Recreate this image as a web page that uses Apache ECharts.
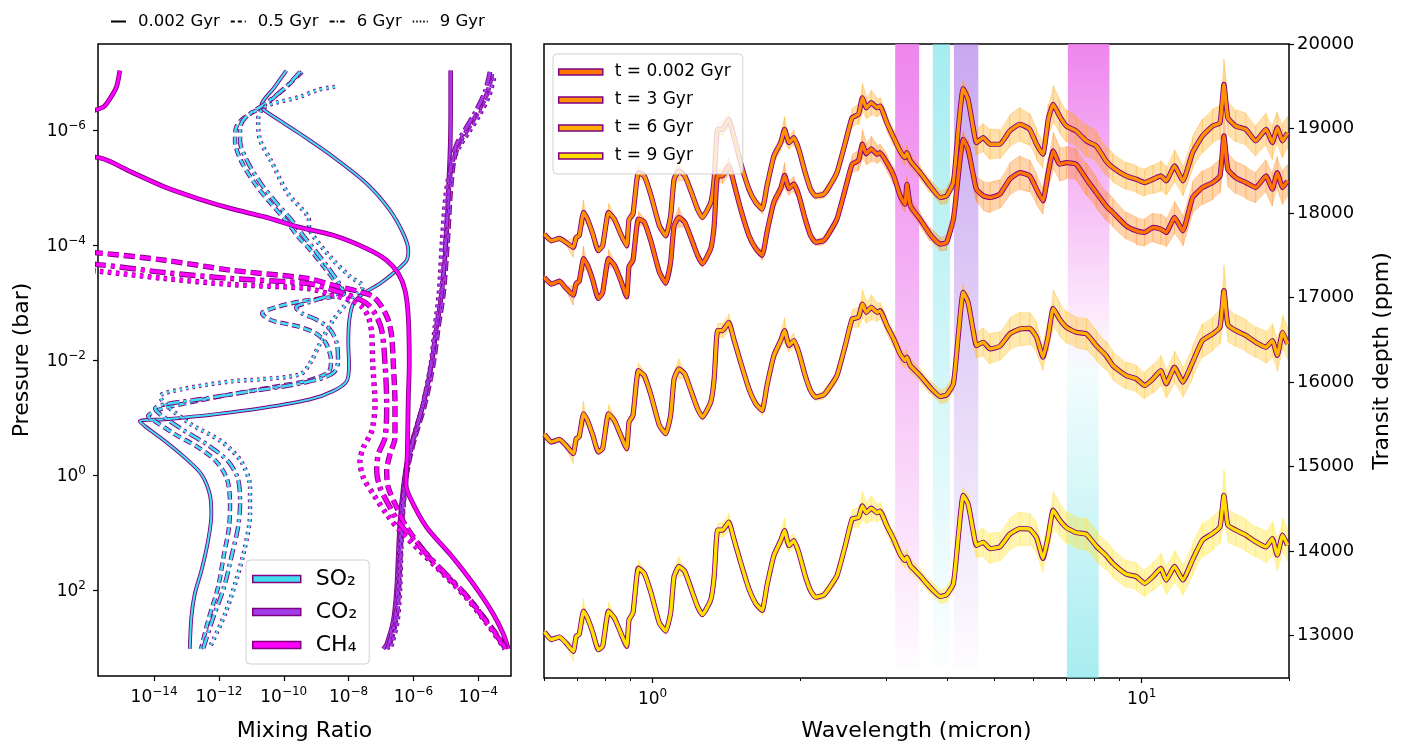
<!DOCTYPE html>
<html>
<head>
<meta charset="utf-8">
<script src="https://cdn.jsdelivr.net/npm/echarts@6.0.0/dist/echarts.min.js"></script>
<style>
  html, body { margin: 0; padding: 0; background: #fff; }
  #chart { width: 1410px; height: 747px; }
</style>
</head>
<body>
<div id="chart"></div>
<script>
// ---------- left panel: mixing ratio profiles, points are [log10 mixing ratio, log10 pressure (bar)]
const ch4Solid = [[-15.058,-7.037],[-15.163,-6.749],[-15.366,-6.546],[-15.573,-6.401],[-16.9,-6.094],[-16.9,-5.659],[-15.573,-5.503],[-14.70,-5.272],[-13.67,-5.011],[-12.643,-4.808],[-11.616,-4.634],[-10.587,-4.490],[-9.560,-4.316],[-8.471,-4.170],[-7.441,-3.939],[-6.825,-3.736],[-6.467,-3.505],[-6.260,-3.215],[-6.159,-2.752],[-6.128,-1.941],[-6.159,-1.315],[-6.189,-0.359],[-6.229,0.162],[-6.106,0.393],[-5.591,0.914],[-4.873,1.377],[-4.154,1.898],[-3.538,2.420],[-3.229,2.767],[-3.075,3.028]];
const ch4Dashed = [[-16.9,-3.904],[-15.727,-3.864],[-13.67,-3.736],[-11.616,-3.562],[-9.251,-3.418],[-8.471,-3.301],[-7.648,-3.187],[-7.238,-3.100],[-6.979,-2.926],[-6.775,-2.693],[-6.670,-2.405],[-6.621,-1.941],[-6.569,-1.229],[-6.569,-0.650],[-6.723,-0.360],[-6.825,-0.070],[-6.775,0.219],[-6.516,0.566],[-6.208,0.914],[-5.388,1.517],[-4.358,2.108],[-3.538,2.699],[-3.124,3.028]];
const ch4DashDot = [[-16.9,-3.696],[-15.727,-3.661],[-13.67,-3.522],[-11.616,-3.418],[-9.251,-3.331],[-8.471,-3.215],[-7.854,-3.100],[-7.441,-2.983],[-7.185,-2.810],[-6.979,-2.520],[-6.877,-1.941],[-6.825,-1.229],[-6.877,-0.650],[-7.083,-0.360],[-7.133,-0.070],[-7.031,0.219],[-6.775,0.509],[-6.414,0.857],[-5.388,1.500],[-4.358,2.108],[-3.538,2.717],[-3.146,3.028]];
const ch4Dotted = [[-16.9,-3.574],[-15.727,-3.545],[-13.67,-3.418],[-11.616,-3.314],[-9.251,-3.244],[-8.471,-3.128],[-7.956,-3.041],[-7.595,-2.926],[-7.392,-2.752],[-7.287,-2.462],[-7.256,-1.941],[-7.185,-1.229],[-7.287,-0.765],[-7.546,-0.476],[-7.648,-0.243],[-7.546,0.045],[-7.238,0.335],[-6.825,0.683],[-6.414,0.973],[-5.388,1.552],[-4.358,2.143],[-3.538,2.734],[-3.177,3.028]];

const co2Solid = [[-4.851,-7.037],[-4.851,-6.528],[-4.864,-5.764],[-4.925,-4.895],[-4.996,-4.026],[-5.129,-3.157],[-5.283,-2.579],[-5.437,-1.941],[-5.696,-1.229],[-6.004,-0.650],[-6.208,-0.186],[-6.313,0.219],[-6.414,0.799],[-6.467,1.378],[-6.516,1.957],[-6.621,2.537],[-6.825,2.942],[-6.929,3.028]];
const co2Dashed = [[-3.578,-6.980],[-3.732,-6.632],[-4.040,-6.285],[-4.348,-5.995],[-4.595,-5.764],[-4.749,-5.473],[-4.857,-4.895],[-4.950,-4.026],[-5.073,-3.157],[-5.227,-2.579],[-5.381,-1.941],[-5.644,-1.229],[-5.952,-0.650],[-6.152,-0.186],[-6.260,0.219],[-6.353,0.799],[-6.399,1.378],[-6.445,1.957],[-6.538,2.537],[-6.723,2.942],[-6.815,3.028]];
const co2DashDot = [[-3.639,-7.015],[-3.794,-6.667],[-4.102,-6.302],[-4.410,-6.007],[-4.657,-5.764],[-4.811,-5.468],[-4.919,-4.895],[-5.011,-4.026],[-5.135,-3.157],[-5.289,-2.579],[-5.443,-1.941],[-5.705,-1.229],[-5.998,-0.650],[-6.199,-0.186],[-6.291,0.219],[-6.384,0.799],[-6.430,1.378],[-6.476,1.957],[-6.569,2.537],[-6.754,2.942],[-6.846,3.028]];
const co2Dotted = [[-3.516,-6.911],[-3.670,-6.598],[-3.979,-6.250],[-4.287,-5.972],[-4.564,-5.729],[-4.811,-5.434],[-4.996,-4.895],[-5.119,-4.026],[-5.212,-3.157],[-5.335,-2.579],[-5.458,-1.941],[-5.705,-1.229],[-5.983,-0.650],[-6.168,-0.186],[-6.260,0.219],[-6.338,0.799],[-6.384,1.378],[-6.414,1.957],[-6.491,2.537],[-6.661,2.942],[-6.723,3.028]];

const so2Solid = [[-9.920,-7.037],[-10.300,-6.737],[-10.691,-6.429],[-10.586,-6.342],[-9.970,-6.111],[-9.498,-5.937],[-8.471,-5.533],[-7.441,-5.069],[-6.723,-4.605],[-6.313,-4.200],[-6.158,-3.910],[-6.208,-3.736],[-6.516,-3.562],[-7.031,-3.331],[-7.546,-3.157],[-7.854,-2.983],[-7.978,-2.693],[-8.009,-2.288],[-7.987,-1.923],[-8.058,-1.633],[-8.471,-1.460],[-9.190,-1.315],[-10.586,-1.171],[-12.128,-1.055],[-13.670,-0.968],[-14.441,-0.938],[-14.287,-0.851],[-13.670,-0.591],[-13.053,-0.302],[-12.541,-0.012],[-12.282,0.336],[-12.233,0.683],[-12.335,1.147],[-12.541,1.668],[-12.745,2.073],[-12.850,2.478],[-12.899,3.028]];
const so2Dashed = [[-9.437,-7.015],[-10.022,-6.702],[-10.670,-6.407],[-11.225,-6.216],[-11.472,-6.042],[-11.503,-5.816],[-11.318,-5.468],[-10.886,-5.069],[-10.393,-4.721],[-9.930,-4.426],[-9.560,-4.148],[-9.190,-3.922],[-8.789,-3.644],[-8.388,-3.349],[-8.142,-3.157],[-8.419,-3.105],[-9.498,-3.018],[-10.269,-2.914],[-10.670,-2.810],[-10.362,-2.688],[-9.560,-2.584],[-9.005,-2.462],[-8.697,-2.289],[-8.542,-1.976],[-8.604,-1.802],[-8.943,-1.698],[-9.498,-1.611],[-10.732,-1.489],[-11.626,-1.402],[-12.890,-1.263],[-13.815,-1.142],[-14.185,-1.020],[-13.969,-0.933],[-13.353,-0.707],[-12.644,-0.481],[-12.088,-0.238],[-11.749,0.075],[-11.657,0.509],[-11.688,0.909],[-11.842,1.378],[-12.027,1.951],[-12.335,2.542],[-12.551,3.029]];
const so2DashDot = [[-9.498,-7.015],[-9.961,-6.737],[-10.578,-6.459],[-11.163,-6.233],[-11.348,-6.042],[-11.348,-5.816],[-11.133,-5.468],[-10.701,-5.069],[-10.207,-4.721],[-9.745,-4.426],[-9.375,-4.148],[-9.005,-3.887],[-8.635,-3.609],[-8.327,-3.366],[-8.172,-3.192],[-8.573,-3.123],[-9.252,-3.001],[-9.622,-2.914],[-9.437,-2.810],[-9.005,-2.706],[-8.573,-2.532],[-8.357,-2.271],[-8.327,-1.976],[-8.450,-1.785],[-8.943,-1.663],[-9.807,-1.559],[-11.040,-1.455],[-12.582,-1.316],[-13.661,-1.229],[-13.969,-1.159],[-13.815,-1.055],[-13.137,-0.794],[-12.335,-0.516],[-11.718,-0.238],[-11.410,0.075],[-11.348,0.509],[-11.410,0.909],[-11.595,1.378],[-11.842,1.951],[-12.212,2.542],[-12.489,3.029]];
const so2Dotted = [[-8.419,-6.754],[-8.943,-6.702],[-9.498,-6.581],[-10.578,-6.407],[-10.793,-6.181],[-10.732,-5.833],[-10.393,-5.468],[-9.868,-4.895],[-9.252,-4.495],[-9.190,-4.252],[-8.573,-3.800],[-7.957,-3.453],[-7.556,-3.279],[-7.957,-3.053],[-8.481,-2.688],[-8.882,-2.289],[-9.190,-1.941],[-9.498,-1.750],[-10.732,-1.663],[-11.626,-1.628],[-13.168,-1.489],[-13.815,-1.368],[-13.661,-1.229],[-12.859,-0.881],[-11.934,-0.586],[-11.318,-0.238],[-11.040,0.214],[-11.040,0.683],[-11.194,1.256],[-11.472,1.847],[-11.811,2.420],[-12.274,2.994]];

const mixTicks = [-14, -12, -10, -8, -6, -4];
const pressureTicks = [-6, -4, -2, 0, 2];
const ageNames = ['0.002 Gyr', '0.5 Gyr', '6 Gyr', '9 Gyr'];

// ---------- right panel: transit spectra, x is log10 wavelength (micron)
const logWavelength = [-0.221,-0.207,-0.190,-0.177,-0.162,-0.156,-0.150,-0.141,-0.133,-0.122,-0.111,-0.102,-0.090,-0.078,-0.065,-0.053,-0.048,-0.040,-0.029,-0.017,-0.003,0.014,0.027,0.037,0.044,0.054,0.066,0.082,0.092,0.102,0.119,0.126,0.133,0.143,0.156,0.166,0.180,0.197,0.211,0.224,0.234,0.248,0.262,0.270,0.279,0.289,0.299,0.312,0.323,0.333,0.350,0.360,0.377,0.394,0.408,0.421,0.429,0.437,0.447,0.459,0.465,0.479,0.493,0.506,0.516,0.520,0.527,0.547,0.567,0.588,0.601,0.615,0.625,0.635,0.645,0.656,0.662,0.676,0.690,0.710,0.730,0.751,0.771,0.785,0.798,0.809,0.819,0.832,0.846,0.866,0.887,0.907,0.927,0.941,0.968,0.989,1.006,1.023,1.039,1.050,1.067,1.084,1.104,1.124,1.145,1.160,1.168,1.176,1.192,1.213,1.233,1.254,1.267,1.277,1.288,1.298];
const depth3Gyr = [17751,17672,17700,17653,17594,17712,17731,18007,17928,17751,17554,17613,18007,17928,17751,17613,17928,17987,18479,18440,18204,17850,17731,17968,18400,18499,18440,18204,18046,17948,18125,18400,18991,18991,19109,18912,18597,18282,18125,18046,18322,18676,18833,18991,18833,18892,18755,18479,18282,18204,18223,18302,18479,18833,19128,19168,19364,19246,19306,19246,19266,19069,18892,18735,18656,18715,18617,18479,18322,18184,18204,18361,18991,19471,19345,18991,18833,18892,18814,18814,18971,19050,18991,18814,18696,19109,19286,19148,19030,18971,18853,18794,18617,18538,18440,18400,18361,18400,18440,18381,18558,18381,18715,18912,19030,19069,19522,19128,19030,18991,18853,18991,18833,19010,18853,18951];
const depth0002Gyr = [17240,17160,17195,17110,17030,17170,17190,17460,17385,17205,16990,17060,17460,17385,17205,17010,17370,17440,17930,17895,17660,17300,17170,17420,17850,17950,17890,17655,17500,17400,17580,17850,18440,18440,18560,18360,18050,17735,17580,17500,17775,18130,18290,18445,18290,18345,18210,17930,17735,17655,17675,17755,17930,18285,18580,18620,18815,18700,18760,18696,18715,18597,18440,18204,18105,18341,18086,17928,17751,17633,17653,17928,18440,18873,18755,18440,18282,18204,18184,18223,18400,18479,18440,18282,18145,18479,18735,18578,18597,18578,18400,18243,18086,18007,17850,17790,17771,17830,17810,17771,17948,17790,18184,18302,18361,18440,18912,18518,18420,18361,18302,18440,18282,18479,18302,18381];
const depth6Gyr = [15382,15291,15323,15252,15154,15331,15351,15626,15547,15370,15173,15213,15626,15547,15370,15213,15528,15606,16137,16078,15842,15488,15390,15606,16039,16157,16098,15842,15685,15587,15764,16039,16610,16610,16708,16511,16236,15921,15744,15665,15960,16315,16492,16610,16433,16492,16354,16078,15901,15823,15850,15921,16078,16433,16747,16767,16924,16826,16885,16826,16846,16669,16511,16334,16256,16295,16196,16078,15941,15830,15850,15980,16551,17062,16944,16590,16433,16472,16393,16425,16570,16629,16637,16531,16295,16551,16873,16747,16649,16590,16570,16433,16315,16196,16078,16039,15960,16039,16137,15980,16177,16000,16236,16492,16570,16650,17082,16680,16610,16551,16472,16413,16492,16315,16590,16452];
const depth9Gyr = [13045,12955,12985,12915,12815,12995,13015,13290,13210,13035,12835,12875,13290,13210,13035,12875,13190,13270,13800,13740,13505,13150,13055,13270,13700,13820,13760,13505,13345,13250,13425,13700,14250,14250,14345,14150,13870,13555,13380,13300,13595,13950,14125,14245,14065,14125,13985,13710,13535,13455,13480,13555,13710,14065,14380,14400,14535,14455,14510,14455,14475,14300,14140,13965,13890,13930,13830,13710,13575,13465,13485,13615,14170,14660,14560,14220,14070,14105,14030,14052,14200,14268,14260,14160,13914,14180,14485,14370,14280,14220,14200,14060,13950,13855,13730,13700,13619,13700,13796,13658,13820,13660,13900,14130,14210,14290,14662,14310,14250,14190,14111,14050,14150,13954,14190,14072];
// half spread of the unbinned spectrum around the binned line (ppm)
const noiseHalf = [20,20,30,25,120,40,50,150,40,30,30,40,110,40,30,40,60,60,90,50,40,40,40,60,80,120,50,40,40,40,50,80,80,90,100,60,50,50,50,60,70,80,90,150,80,90,60,50,40,40,50,60,70,90,110,120,170,130,150,110,100,100,100,90,90,90,90,80,80,80,90,100,110,100,110,130,150,170,180,170,190,200,190,180,160,180,220,200,190,180,190,180,170,170,160,160,160,170,180,170,190,180,190,200,200,200,300,200,190,190,180,190,200,190,200,190];

// highlighted molecular bands: [log10 lo, log10 hi, top ppm, bottom ppm]
const bandCH4a = [0.496, 0.545, 20000, 12600];
const bandSO2a = [0.573, 0.608, 20000, 12600];
const bandCO2  = [0.616, 0.666, 20000, 12600];
const bandCH4b = [0.849, 0.934, 20000, 16100];
const bandSO2b = [0.847, 0.912, 16700, 12500];

const waveMajor = [0, 1];
const waveMinor = [0.6,0.7,0.8,0.9,2,3,4,5,6,7,8,9,20].map(Math.log10);
const depthTicks = [13000,14000,15000,16000,17000,18000,19000,20000];

const EDGE = '#800080';
const FONT = 'DejaVu Sans';

// 10^n tick labels as rich text with a raised exponent
function pow10(v) {
  return '{b|10}{s|' + String(Math.round(v)).replace('-', '\u2212') + '}';
}
const powRich = {
  b: { fontSize: 17, lineHeight: 20, verticalAlign: 'bottom', fontFamily: FONT, color: '#000' },
  s: { fontSize: 12, lineHeight: 7, verticalAlign: 'top', fontFamily: FONT, color: '#000' }
};

const chart = echarts.init(document.getElementById('chart'));

// line styles for the four ages
const dashes = {
  so2: ['solid', [8, 4], [12, 4, 3, 4], [2.5, 4]],
  co2: ['solid', [10, 4], [14, 4, 3, 4], [3, 4]],
  ch4: ['solid', [11, 5], [16, 5, 4, 5], [3.5, 4.5]]
};

function outlined(name, data, color, width, dash, grid, smooth) {
  const base = {
    type: 'line', xAxisIndex: grid ? 1 : 0, yAxisIndex: grid, data: data,
    symbol: 'none', smooth: smooth, animation: false, silent: true
  };
  return [
    Object.assign({}, base, { name: name + ' edge', lineStyle: { color: EDGE, width: width + 1.8, type: dash } }),
    Object.assign({}, base, { name: name, color: color, lineStyle: { color: color, width: width, type: dash } })
  ];
}

const series = [];
[[so2Solid, so2Dashed, so2DashDot, so2Dotted], [co2Solid, co2Dashed, co2DashDot, co2Dotted], [ch4Solid, ch4Dashed, ch4DashDot, ch4Dotted]]
  .forEach((group, g) => {
    const key = ['so2', 'co2', 'ch4'][g];
    const name = ['SO\u2082', 'CO\u2082', 'CH\u2084'][g];
    const color = ['#40E0F0', '#A23BEA', '#FF00FF'][g];
    group.forEach((d, k) => {
      const w = (k === 0 ? [2, 2.8, 3][g] : [2.6, 3, 3.6][g]);
      series.push(...outlined(name, d, color, w, dashes[key][k], 0, 0.3));
    });
  });

// dummy series for the line style key
ageNames.forEach((n, k) => {
  series.push({
    type: 'line', name: n, xAxisIndex: 0, yAxisIndex: 0, data: [], symbol: 'none',
    color: '#000', lineStyle: { color: '#000', width: 1.8, type: ['solid', [4, 3], [5, 2, 1.5, 2], [1.5, 2]][k] }
  });
});

// band shading on the spectrum panel
function band(b, color, top, bottom) {
  const stops = [{ offset: 0, color: color.replace('A', top) }, { offset: 1, color: color.replace('A', bottom) }];
  return [
    { xAxis: b[0], yAxis: b[2], itemStyle: { color: { type: 'linear', x: 0, y: 0, x2: 0, y2: 1, colorStops: stops } } },
    { xAxis: b[1], yAxis: b[3] }
  ];
}
series.push({
  type: 'line', name: 'bands', xAxisIndex: 1, yAxisIndex: 1, data: [], symbol: 'none', silent: true, z: 1,
  markArea: {
    silent: true,
    data: [
      band(bandCH4a, 'rgba(236,120,236,A)', 0.9, 0.02),
      band(bandSO2a, 'rgba(110,225,232,A)', 0.62, 0.02),
      band(bandCO2, 'rgba(165,110,230,A)', 0.6, 0.02),
      band(bandCH4b, 'rgba(236,120,236,A)', 0.9, 0.0),
      band(bandSO2b, 'rgba(110,225,232,A)', 0.0, 0.6)
    ]
  }
});

const spectra = [
  { name: 't = 3 Gyr', depth: depth3Gyr, color: '#FF9200', noise: [255, 165, 20] },
  { name: 't = 0.002 Gyr', depth: depth0002Gyr, color: '#FF7400', noise: [255, 135, 20] },
  { name: 't = 6 Gyr', depth: depth6Gyr, color: '#FFB000', noise: [255, 190, 30] },
  { name: 't = 9 Gyr', depth: depth9Gyr, color: '#FFE100', noise: [255, 228, 40] }
];
spectra.forEach(s => {
  const rgba = a => 'rgba(' + s.noise.join(',') + ',' + a + ')';
  const spread = logWavelength.map((x, i) => [x, s.depth[i] - noiseHalf[i], s.depth[i] + noiseHalf[i]]);
  // filled envelope of the unbinned spectrum
  series.push({
    type: 'custom', name: s.name + ' spread', xAxisIndex: 1, yAxisIndex: 1, silent: true, clip: true,
    data: spread, encode: { x: 0, y: [1, 2] },
    renderItem: (params, api) => {
      if (params.dataIndex !== 0) return null;
      const lo = spread.map(p => api.coord([p[0], p[1]]));
      const hi = spread.map(p => api.coord([p[0], p[2]])).reverse();
      return { type: 'polygon', shape: { points: lo.concat(hi) }, style: { fill: rgba(0.36) } };
    }
  });
  // jagged strokes of the unbinned spectrum
  const comb = [];
  spread.forEach((p, i) => {
    if (i % 2) comb.push([p[0], p[2]], [p[0], p[1]]); else comb.push([p[0], p[1]], [p[0], p[2]]);
  });
  series.push({
    type: 'line', name: s.name + ' raw', xAxisIndex: 1, yAxisIndex: 1, data: comb, symbol: 'none',
    silent: true, lineStyle: { color: rgba(0.4), width: 1 }
  });
  const line = logWavelength.map((x, i) => [x, s.depth[i]]);
  series.push(...outlined(s.name, line, s.color, 3.4, 'solid', 1, 0.15));
});

const tickFont = { fontFamily: FONT, color: '#000' };
const nameFont = { fontSize: 22, fontFamily: FONT, color: '#000' };

chart.setOption({
  animation: false,
  backgroundColor: '#fff',
  textStyle: { fontFamily: FONT },
  grid: [
    { left: 98, top: 44, width: 413, height: 633, show: true, borderColor: '#000', borderWidth: 1.5, backgroundColor: 'transparent' },
    { left: 544, top: 44, width: 745, height: 634, show: true, borderColor: '#000', borderWidth: 1.5, backgroundColor: 'transparent' }
  ],
  xAxis: [
    {
      type: 'value', gridIndex: 0, position: 'bottom', min: -15.73, max: -2.99,
      name: 'Mixing Ratio', nameLocation: 'middle', nameGap: 44, nameTextStyle: nameFont,
      axisLine: { show: false, onZero: false }, splitLine: { show: false },
      axisTick: { customValues: mixTicks, length: 5, lineStyle: { color: '#000', width: 1.2 } },
      axisLabel: { customValues: mixTicks, margin: 10, formatter: pow10, rich: powRich }
    },
    {
      type: 'value', gridIndex: 1, position: 'bottom', min: Math.log10(0.6), max: Math.log10(20),
      name: 'Wavelength (micron)', nameLocation: 'middle', nameGap: 42, nameTextStyle: nameFont,
      axisLine: { show: false, onZero: false }, splitLine: { show: false },
      axisTick: { customValues: waveMajor, length: 5, lineStyle: { color: '#000', width: 1.2 } },
      axisLabel: { customValues: waveMajor, margin: 10, formatter: pow10, rich: powRich }
    },
    {
      type: 'value', gridIndex: 1, position: 'bottom', min: Math.log10(0.6), max: Math.log10(20),
      axisLine: { show: false, onZero: false }, splitLine: { show: false },
      axisTick: { customValues: waveMinor, length: 3, lineStyle: { color: '#000', width: 1 } },
      axisLabel: { show: false }
    }
  ],
  yAxis: [
    {
      type: 'value', gridIndex: 0, position: 'left', min: -7.5, max: 3.5, inverse: true,
      name: 'Pressure (bar)', nameLocation: 'middle', nameGap: 65, nameRotate: 90, nameTextStyle: nameFont,
      axisLine: { show: false, onZero: false }, splitLine: { show: false },
      axisTick: { customValues: pressureTicks, length: 5, lineStyle: { color: '#000', width: 1.2 } },
      axisLabel: { customValues: pressureTicks, margin: 12, formatter: pow10, rich: powRich }
    },
    {
      type: 'value', gridIndex: 1, position: 'right', min: 12500, max: 20000,
      name: 'Transit depth (ppm)', nameLocation: 'middle', nameGap: 82, nameRotate: 90, nameTextStyle: nameFont,
      axisLine: { show: false, onZero: false }, splitLine: { show: false },
      axisTick: { customValues: depthTicks, length: 5, lineStyle: { color: '#000', width: 1.2 } },
      axisLabel: Object.assign({ customValues: depthTicks, fontSize: 18, margin: 8, formatter: v => String(v) }, tickFont)
    }
  ],
  legend: [
    {
      data: ageNames, left: 105, top: 8, itemWidth: 15, itemHeight: 10, itemGap: 10,
      itemStyle: { opacity: 0 }, selectedMode: false,
      textStyle: { fontSize: 16.5, fontFamily: FONT, color: '#000', padding: [0, 0, 0, 7] }
    },
    {
      data: ['SO\u2082', 'CO\u2082', 'CH\u2084'].map((n, i) => ({
        name: n, icon: 'rect',
        itemStyle: { color: ['#40E0F0', '#A23BEA', '#FF00FF'][i], borderColor: EDGE, borderWidth: 1.5 }
      })),
      orient: 'vertical', left: 246, top: 560, itemWidth: 48, itemHeight: 7, itemGap: 11,
      padding: [8, 12, 8, 6], backgroundColor: 'rgba(255,255,255,0.8)', borderColor: '#d0d0d0',
      borderWidth: 1, borderRadius: 4, selectedMode: false,
      textStyle: { fontSize: 22, lineHeight: 22, fontFamily: FONT, color: '#000', padding: [0, 0, 0, 10] }
    },
    {
      data: ['t = 0.002 Gyr', 't = 3 Gyr', 't = 6 Gyr', 't = 9 Gyr'].map(n => ({
        name: n, icon: 'rect',
        itemStyle: { color: spectra.find(s => s.name === n).color, borderColor: EDGE, borderWidth: 1.5 }
      })),
      orient: 'vertical', left: 553, top: 54, itemWidth: 44, itemHeight: 6, itemGap: 8,
      padding: [8, 12, 8, 5], backgroundColor: 'rgba(255,255,255,0.8)', borderColor: '#d0d0d0',
      borderWidth: 1, borderRadius: 4, selectedMode: false,
      textStyle: { fontSize: 17, lineHeight: 20, fontFamily: FONT, color: '#000', padding: [0, 0, 0, 7] }
    }
  ],
  series: series
});
</script>
</body>
</html>
